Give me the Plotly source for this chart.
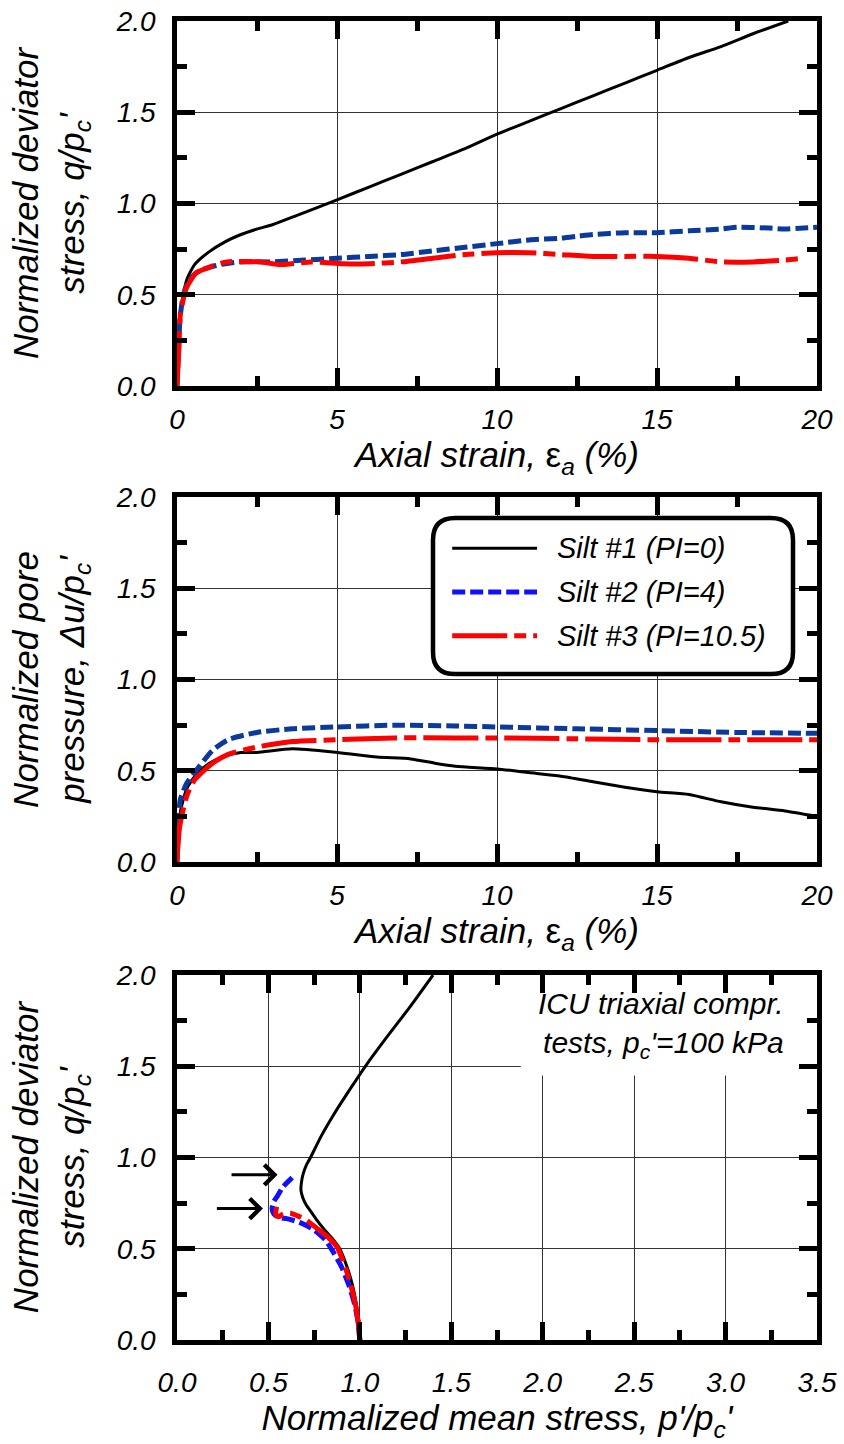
import plotly.graph_objects as go

# ---------------- data ----------------
NAMES = ["Silt #1 (PI=0)", "Silt #2 (PI=4)", "Silt #3 (PI=10.5)"]

# Panel (a): normalized deviator stress vs axial strain
A1_EPS = [0, 0.05, 0.12, 0.3, 0.55, 1, 1.5, 2, 2.5, 3, 3.75, 5, 6, 7, 8, 9, 10, 11, 12, 13, 14, 15, 16, 17, 18, 19.1]
A1_Q = [0, 0.25, 0.42, 0.58, 0.665, 0.735, 0.79, 0.83, 0.86, 0.885, 0.935, 1.02, 1.09, 1.16, 1.23, 1.30, 1.38, 1.45, 1.52, 1.59, 1.66, 1.73, 1.80, 1.86, 1.93, 2.0]
A2_EPS = [0, 0.05, 0.1, 0.2, 0.35, 0.6, 1, 1.5, 2, 3, 4, 5, 6, 7, 8, 9, 10, 11, 12, 12.5, 13, 14, 15, 16, 17, 17.5, 18.5, 19, 20]
A2_Q = [0, 0.22, 0.38, 0.5, 0.57, 0.62, 0.65, 0.67, 0.68, 0.68, 0.69, 0.70, 0.71, 0.72, 0.74, 0.76, 0.78, 0.80, 0.81, 0.82, 0.83, 0.84, 0.84, 0.85, 0.86, 0.87, 0.865, 0.86, 0.87]
A3_EPS = [0, 0.06, 0.11, 0.3, 0.6, 1, 1.56, 2.6, 3.2, 4.2, 5.2, 6, 7, 8, 9, 10, 11, 12, 13, 14, 15, 16, 17, 18, 19, 19.6]
A3_Q = [0, 0.21, 0.40, 0.54, 0.62, 0.65, 0.68, 0.68, 0.665, 0.68, 0.67, 0.67, 0.68, 0.70, 0.72, 0.73, 0.73, 0.72, 0.71, 0.71, 0.71, 0.70, 0.68, 0.68, 0.69, 0.70]

# Panel (b): normalized pore pressure vs axial strain
B1_EPS = [0, 0.05, 0.1, 0.3, 0.6, 1, 1.5, 2, 2.5, 3.6, 5, 6.25, 7.3, 8.1, 8.7, 10, 11, 12, 13, 14, 15, 16, 17, 18, 19, 20]
B1_DU = [0, 0.17, 0.27, 0.4, 0.48, 0.54, 0.58, 0.60, 0.60, 0.62, 0.60, 0.575, 0.565, 0.54, 0.525, 0.51, 0.49, 0.47, 0.44, 0.41, 0.385, 0.37, 0.33, 0.30, 0.28, 0.25]
B2_EPS = [0, 0.05, 0.1, 0.3, 0.55, 1.1, 1.6, 2.5, 3.6, 5, 6.8, 8.7, 10, 12.5, 15, 17.5, 20]
B2_DU = [0, 0.22, 0.34, 0.43, 0.49, 0.61, 0.67, 0.71, 0.73, 0.74, 0.75, 0.745, 0.74, 0.73, 0.72, 0.71, 0.705]
B3_EPS = [0, 0.08, 0.3, 0.55, 1.1, 1.6, 2.5, 3.6, 5, 6.8, 8.7, 10, 12.5, 15, 17.5, 20]
B3_DU = [0, 0.19, 0.36, 0.45, 0.54, 0.59, 0.63, 0.66, 0.67, 0.68, 0.68, 0.68, 0.675, 0.67, 0.67, 0.67]

# Panel (c): stress paths
C1_P = [1.0, 0.995, 0.98, 0.96, 0.93, 0.89, 0.85, 0.81, 0.77, 0.735, 0.707, 0.688, 0.678, 0.68, 0.69, 0.708, 0.73, 0.79, 0.86, 0.95, 1.03, 1.14, 1.27, 1.40]
C1_Q = [0, 0.1, 0.2, 0.3, 0.4, 0.5, 0.555, 0.60, 0.65, 0.70, 0.74, 0.78, 0.82, 0.86, 0.91, 0.96, 1.0, 1.12, 1.24, 1.38, 1.5, 1.65, 1.82, 2.0]
C2_P = [1.0, 0.99, 0.97, 0.94, 0.90, 0.85, 0.81, 0.74, 0.67, 0.60, 0.56, 0.53, 0.52, 0.53, 0.55, 0.58, 0.63]
C2_Q = [0, 0.1, 0.2, 0.3, 0.4, 0.49, 0.55, 0.61, 0.645, 0.665, 0.67, 0.69, 0.72, 0.76, 0.79, 0.84, 0.89]
C3_P = [1.0, 0.99, 0.975, 0.95, 0.92, 0.875, 0.83, 0.78, 0.71, 0.66, 0.62, 0.58, 0.555, 0.54, 0.545]
C3_Q = [0, 0.1, 0.2, 0.3, 0.4, 0.51, 0.56, 0.60, 0.655, 0.68, 0.695, 0.69, 0.675, 0.69, 0.73]

# arrows in panel (c): (tail p, head p, q)
ARROW_TAIL_P = [0.29, 0.21]
ARROW_HEAD_P = [0.55, 0.47]
ARROW_Q = [0.905, 0.72]

NOTE_TEXT = "ICU triaxial compr.<br>tests, p<sub>c</sub>'=100 kPa"

# ---------------- styles ----------------
FONT = "Liberation Sans, Arial, sans-serif"
BLACK = "#000000"
BLUE_DARK = "#0a3a9c"
BLUE = "#1010ff"
RED = "#ff0000"
DASH_BLUE = "13px,5px"
DASH_RED = "55px,7px,12px,7px"

fig = go.Figure()

def add(x, y, xa, ya, color, width, dash, name):
    fig.add_trace(go.Scatter(
        x=x, y=y, xaxis=xa, yaxis=ya, mode="lines", name=name, showlegend=False,
        line=dict(color=color, width=width, dash=dash, shape="spline", smoothing=0.6),
        hoverinfo="skip"))

add(A1_EPS, A1_Q, "x", "y", BLACK, 3, "solid", NAMES[0])
add(A2_EPS, A2_Q, "x", "y", BLUE_DARK, 5, DASH_BLUE, NAMES[1])
add(A3_EPS, A3_Q, "x", "y", RED, 5, DASH_RED, NAMES[2])
add(B1_EPS, B1_DU, "x2", "y2", BLACK, 3, "solid", NAMES[0])
add(B2_EPS, B2_DU, "x2", "y2", BLUE_DARK, 5, DASH_BLUE, NAMES[1])
add(B3_EPS, B3_DU, "x2", "y2", RED, 5, DASH_RED, NAMES[2])
add(C1_P, C1_Q, "x3", "y3", BLACK, 3, "solid", NAMES[0])
add(C2_P, C2_Q, "x3", "y3", BLUE, 5, DASH_BLUE, NAMES[1])
add(C3_P, C3_Q, "x3", "y3", RED, 5, DASH_RED, NAMES[2])

tickfont = dict(family=FONT, size=28, color="black", style="italic")
titlefont = dict(family=FONT, size=35, color="black", style="italic")

def xax(rng, dtick, minor_dtick, title, fmt, anchor, lab_standoff=5):
    return dict(
        range=rng, dtick=dtick, tick0=0, tickformat=fmt, anchor=anchor,
        ticks="inside", ticklen=18, tickwidth=4.5, tickcolor="black",
        minor=dict(dtick=minor_dtick, tick0=0, ticks="inside", ticklen=10, tickwidth=4.5,
                   tickcolor="black", showgrid=False),
        showline=True, linewidth=4.5, linecolor="black", mirror="ticks",
        showgrid=True, gridcolor="#333333", gridwidth=1.2, zeroline=False,
        tickfont=tickfont, ticklabelstandoff=lab_standoff, ticklabeloverflow="allow",
        title=dict(text=title, font=titlefont, standoff=2),
        automargin=False, fixedrange=True)

def yax(domain, title, anchor):
    return dict(
        domain=domain, range=[0, 2], dtick=0.5, tick0=0, tickformat=".1f", anchor=anchor,
        ticks="inside", ticklen=18, tickwidth=4.5, tickcolor="black",
        minor=dict(dtick=0.25, tick0=0, ticks="inside", ticklen=10, tickwidth=4.5,
                   tickcolor="black", showgrid=False),
        showline=True, linewidth=4.5, linecolor="black", mirror="ticks",
        showgrid=True, gridcolor="#333333", gridwidth=1.2, zeroline=False,
        tickfont=tickfont, ticklabelstandoff=11, ticklabeloverflow="allow",
        title=dict(text=title, font=titlefont, standoff=22),
        automargin=False, fixedrange=True)

EPS_TITLE = "Axial strain, <span style='font-style:normal'>ε</span><sub>a</sub> (%)"

fig.update_layout(
    width=844, height=1444, template="none",
    paper_bgcolor="white", plot_bgcolor="white",
    margin=dict(l=177, r=27, t=21, b=104),
    showlegend=False,
    font=dict(family=FONT, color="black"),
    xaxis=xax([0, 20], 5, 2.5, EPS_TITLE, "d", "y"),
    yaxis=yax([0.7233, 1.0], "Normalized deviator<br>stress, q/p<sub>c</sub>'", "x"),
    xaxis2=xax([0, 20], 5, 2.5, EPS_TITLE, "d", "y2"),
    yaxis2=yax([0.3624, 0.6391], "Normalized pore<br>pressure, Δu/p<sub>c</sub>'", "x2"),
    xaxis3=xax([0, 3.5], 0.5, 0.25, "Normalized mean stress, p'/p<sub>c</sub>'", ".1f", "y3", 14),
    yaxis3=yax([0, 0.2767], "Normalized deviator<br>stress, q/p<sub>c</sub>'", "x3"),
)

shapes = []
# legend box (rounded) in panel (b)
x0, x1, y0, y1 = 8.0, 19.25, 1.03, 1.885
rx, ry = 0.69, 0.12
path = (f"M {x0+rx},{y0} L {x1-rx},{y0} Q {x1},{y0} {x1},{y0+ry} L {x1},{y1-ry} "
        f"Q {x1},{y1} {x1-rx},{y1} L {x0+rx},{y1} Q {x0},{y1} {x0},{y1-ry} "
        f"L {x0},{y0+ry} Q {x0},{y0} {x0+rx},{y0} Z")
shapes.append(dict(type="path", path=path, xref="x2", yref="y2", fillcolor="white",
                   line=dict(color="black", width=4.5), layer="between"))
# white box behind the note in panel (c)
shapes.append(dict(type="rect", xref="x3", yref="y3", x0=1.88, x1=3.49, y0=1.45, y1=1.99,
                   fillcolor="white", line=dict(width=0), layer="between"))

# legend samples
LEG_X0, LEG_X1, LEG_TX = 8.6, 11.25, 11.8
LEG_ROWS = [1.72, 1.48, 1.24]
leg_styles = [(BLACK, 3, "solid"), (BLUE, 5, DASH_BLUE), (RED, 5, DASH_RED)]
annotations = []
for (c, w, d), yrow, name in zip(leg_styles, LEG_ROWS, NAMES):
    shapes.append(dict(type="line", xref="x2", yref="y2", x0=LEG_X0, x1=LEG_X1, y0=yrow, y1=yrow,
                       line=dict(color=c, width=w, dash=d), layer="above"))
    annotations.append(dict(x=LEG_TX, y=yrow, xref="x2", yref="y2", text=name, showarrow=False,
                            xanchor="left", yanchor="middle",
                            font=dict(family=FONT, size=29, color="black", style="italic")))

annotations.append(dict(x=3.33, y=1.726, xref="x3", yref="y3", text=NOTE_TEXT, showarrow=False,
                        xanchor="right", yanchor="middle", align="right",
                        font=dict(family=FONT, size=30, color="black", style="italic")))

for tp, hp, q in zip(ARROW_TAIL_P, ARROW_HEAD_P, ARROW_Q):
    annotations.append(dict(x=hp, y=q, ax=tp, ay=q, xref="x3", yref="y3", axref="x3", ayref="y3",
                            text="", showarrow=True, arrowhead=4, arrowsize=1.3, arrowwidth=3,
                            arrowcolor="black"))

fig.update_layout(shapes=shapes, annotations=annotations)
fig.write_html("out.html", config={"displayModeBar": False},
               post_script="document.body.style.margin='0';")
